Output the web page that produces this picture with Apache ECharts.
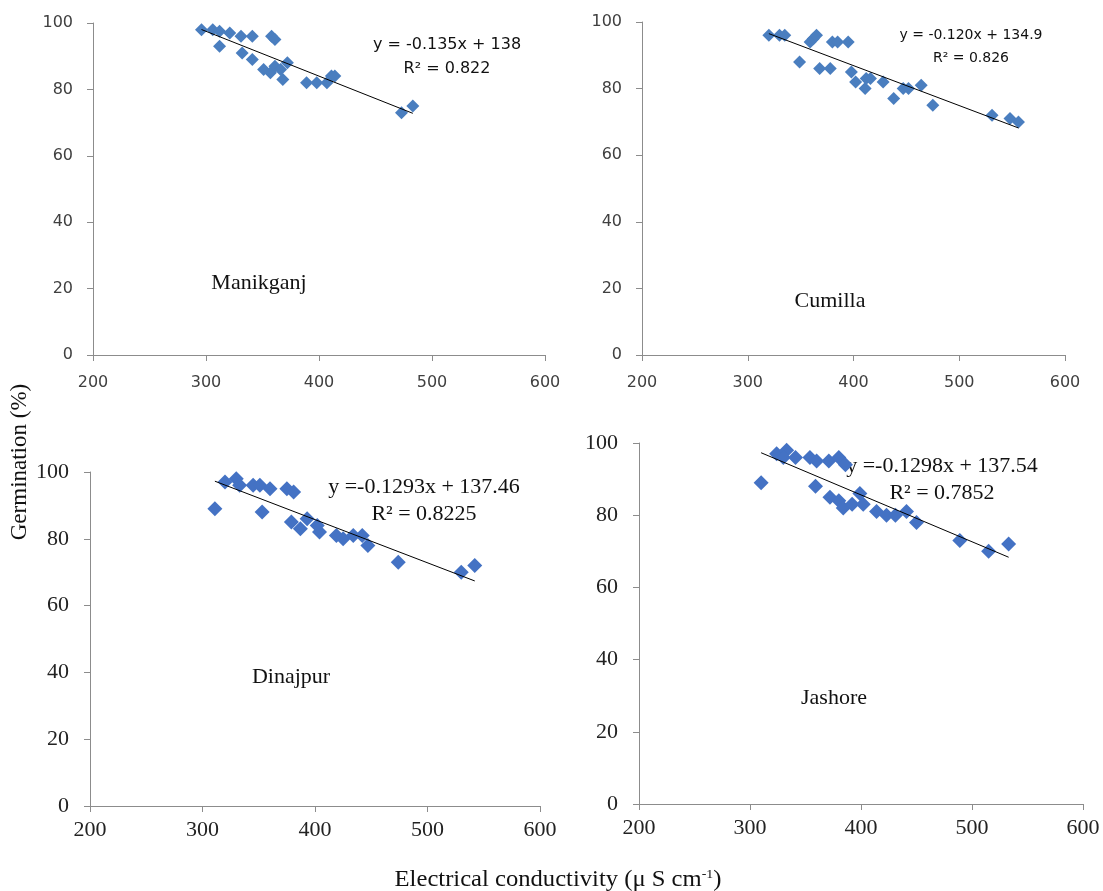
<!DOCTYPE html>
<html>
<head>
<meta charset="utf-8">
<script src="https://cdn.jsdelivr.net/npm/echarts@6/dist/echarts.min.js"></script>
<style>html,body{margin:0;padding:0;background:#fff}#c{width:1103px;height:891px}</style>
</head>
<body>
<div id="c"></div>
<script>
// Data (EC in µS/cm, germination %)
var sites = ["Manikganj", "Cumilla", "Dinajpur", "Jashore"];
var manikganjEC  = [296,306,312,321,331,341,358,361,312,332,341,351,357,361,366,372,368,389,398,407,411,414,473,483];
var manikganjGer = [98,98,97.5,97,96,96,96,95,93,91,89,86,85,87,86,88,83,82,82,82,84,84,73,75];
var cumillaEC  = [320,330,335,359,362,365,380,385,395,349,368,378,398,402,411,412,416,428,438,447,452,464,475,531,548,556];
var cumillaGer = [96,96,96,94,95,96,94,94,94,88,86,86,85,82,80,83,83,82,77,80,80,81,75,72,71,70];
var dinajpurEC  = [311,320,330,333,345,351,360,375,381,353,379,387,393,402,404,419,425,434,442,447,474,530,542];
var dinajpurGer = [89,97,98,96,96,96,95,95,94,88,85,83,86,84,82,81,80,81,81,78,73,70,72];
var jashoreEC  = [310,324,333,330,341,354,360,371,380,386,359,372,380,384,392,399,402,414,423,431,441,450,489,515,533];
var jashoreGer = [89,97,98,96,96,96,95,95,96,94,88,85,84,82,83,86,83,81,80,80,81,78,73,70,72];
var slopes     = [-0.135, -0.120, -0.1293, -0.1298];
var intercepts = [138, 134.9, 137.46, 137.54];
var eqLabels = ["y = -0.135x + 138", "y = -0.120x + 134.9", "y =-0.1293x + 137.46", "y =-0.1298x + 137.54"];
var r2Labels = ["R\u00b2 = 0.822", "R\u00b2 = 0.826", "R\u00b2 = 0.8225", "R\u00b2 = 0.7852"];
var xTicks = [200, 300, 400, 500, 600];
var yTicks = [0, 20, 40, 60, 80, 100];

var ecs = [manikganjEC, cumillaEC, dinajpurEC, jashoreEC];
var gers = [manikganjGer, cumillaGer, dinajpurGer, jashoreGer];

var grids = [
  {left: 93, top: 23, width: 452, height: 332},
  {left: 642, top: 22, width: 423, height: 333},
  {left: 90, top: 472, width: 450, height: 334},
  {left: 639, top: 443, width: 444, height: 361}
];
var sans = "DejaVu Sans";
var serif = "Liberation Serif";
var tickFont = [
  {fontFamily: sans, fontSize: 16, color: "#404040"},
  {fontFamily: sans, fontSize: 16, color: "#404040"},
  {fontFamily: serif, fontSize: 22, color: "#222"},
  {fontFamily: serif, fontSize: 22, color: "#222"}
];
var markColors = ["#4a7ebf", "#4a7ebf", "#4472c4", "#4472c4"];
var markSizes = [13, 13, 15, 15];

var xAxes = [], yAxes = [], series = [];
for (var i = 0; i < 4; i++) {
  var f = tickFont[i];
  xAxes.push({
    gridIndex: i, type: "value", min: 200, max: 600, interval: 100,
    splitLine: {show: false},
    axisLine: {onZero: false, lineStyle: {color: "#8c8c8c", width: 1}},
    axisTick: {show: true, length: 6, lineStyle: {color: "#8c8c8c"}},
    axisLabel: {margin: i < 2 ? 20 : 13, fontFamily: f.fontFamily, fontSize: f.fontSize, color: f.color,
      customValues: xTicks},
  });
  yAxes.push({
    gridIndex: i, type: "value", min: 0, max: 100, interval: 20,
    splitLine: {show: false},
    axisLine: {show: true, lineStyle: {color: "#8c8c8c", width: 1}},
    axisTick: {show: true, length: 6, lineStyle: {color: "#8c8c8c"}},
    axisLabel: {margin: i < 2 ? 20 : 21, fontFamily: f.fontFamily, fontSize: f.fontSize, color: f.color}
  });
  var pts = ecs[i].map(function (x, k) { return [x, gers[i][k]]; });
  series.push({
    type: "scatter", xAxisIndex: i, yAxisIndex: i, data: pts,
    symbol: "diamond", symbolSize: markSizes[i],
    itemStyle: {color: markColors[i], opacity: 1}, z: 2
  });
  var xmin = Math.min.apply(null, ecs[i]), xmax = Math.max.apply(null, ecs[i]);
  series.push({
    type: "line", xAxisIndex: i, yAxisIndex: i,
    data: [[xmin, slopes[i] * xmin + intercepts[i]], [xmax, slopes[i] * xmax + intercepts[i]]],
    symbol: "none", lineStyle: {color: "#000", width: 1}, z: 3, silent: true
  });
}

function txt(x, y, t, font, size, sx) {
  return {type: "text", x: x, y: y, scaleX: sx || 1,
    style: {text: t, fontFamily: font, fontSize: size, fill: "#111", align: "center", verticalAlign: "middle"}};
}
var graphics = [
  txt(447, 45, eqLabels[0], sans, 16), txt(447, 69, r2Labels[0], sans, 16),
  txt(971, 35, eqLabels[1], sans, 14), txt(971, 58, r2Labels[1], sans, 14),
  txt(424, 487, eqLabels[2], serif, 22), txt(424, 514, r2Labels[2], serif, 22),
  txt(942, 466, eqLabels[3], serif, 22), txt(942, 493, r2Labels[3], serif, 22),
  txt(259, 283, sites[0], serif, 22), txt(830, 301, sites[1], serif, 22),
  txt(291, 677, sites[2], serif, 22), txt(834, 698, sites[3], serif, 22),
  {type: "text", x: 20, y: 462, rotation: Math.PI / 2,
    style: {text: "Germination (%)", fontFamily: serif, fontSize: 23, fill: "#111", align: "center", verticalAlign: "middle"}},
  {type: "text", x: 558, y: 880, scaleX: 1.07,
    style: {text: "{a|Electrical conductivity (\u03bc S cm}{s|-1}{a|)}", align: "center", verticalAlign: "middle",
      rich: {a: {fontFamily: serif, fontSize: 23, fill: "#111"}, s: {fontFamily: serif, fontSize: 13, fill: "#111", verticalAlign: "top", padding: [0, 0, 10, 0]}}}}
];

var chart = echarts.init(document.getElementById("c"), null, {renderer: "canvas"});
chart.setOption({
  animation: false,
  backgroundColor: "#fff",
  grid: grids,
  xAxis: xAxes,
  yAxis: yAxes,
  series: series,
  graphic: graphics
});
</script>
</body>
</html>
